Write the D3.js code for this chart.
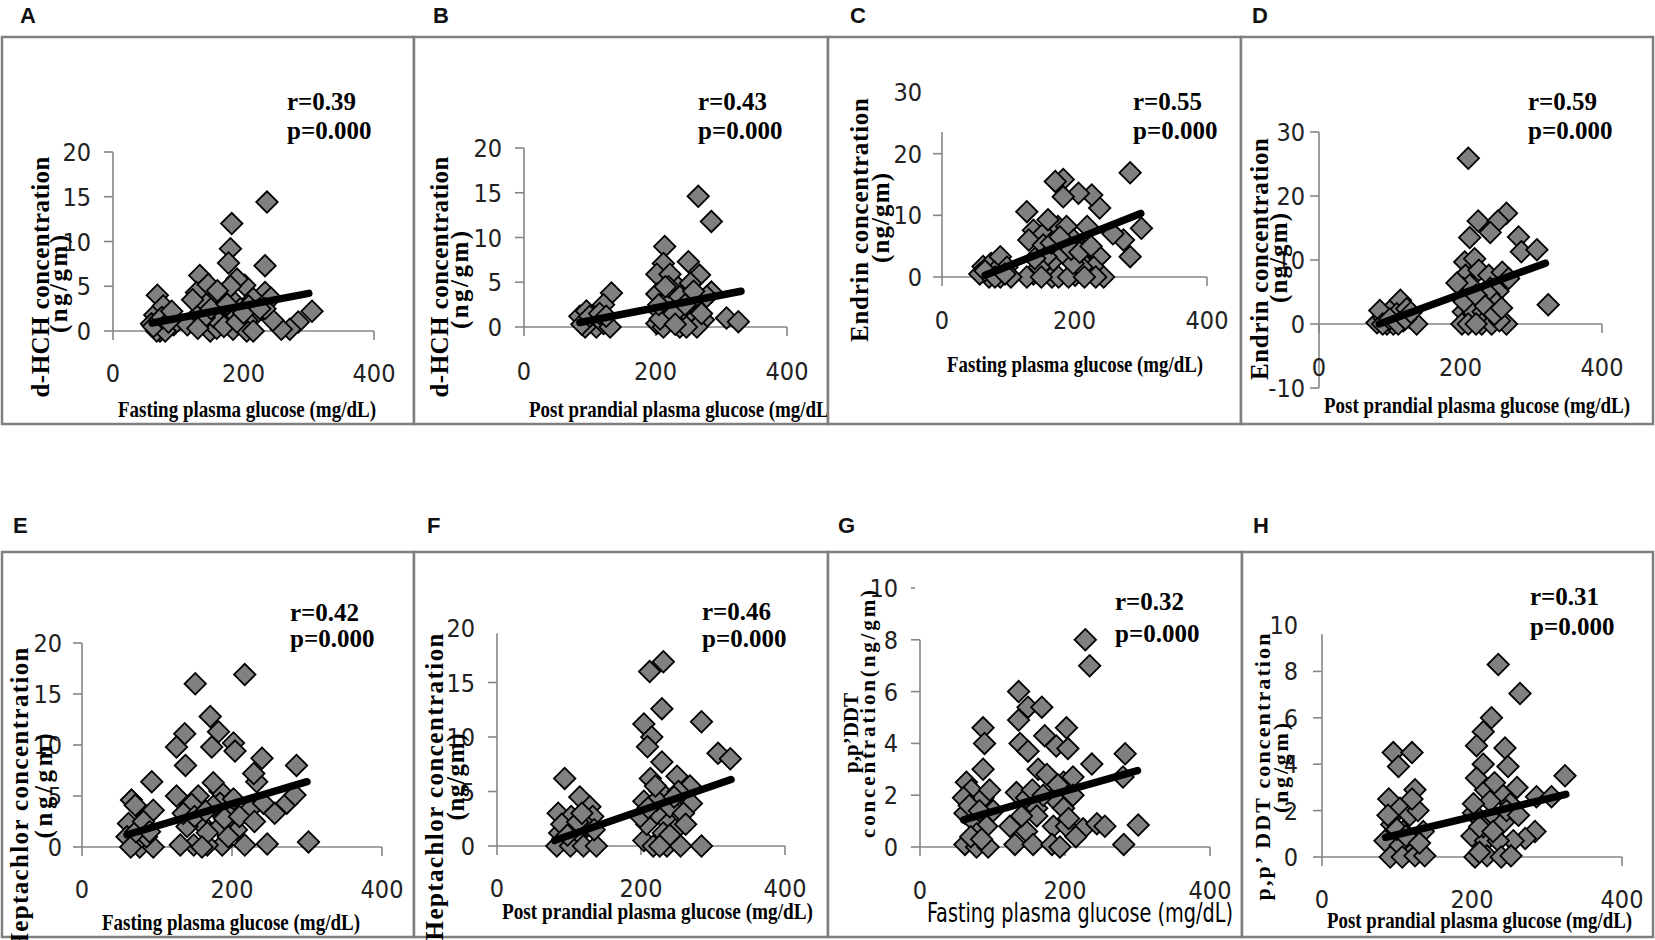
<!DOCTYPE html>
<html><head><meta charset="utf-8">
<script src="https://cdn.jsdelivr.net/npm/d3@7"></script>
<style>
body{margin:0;background:#fff;}
svg{display:block;}
</style></head>
<body>
<svg id="chart" width="1655" height="940"></svg>
<script>
// ---------------- DATA ----------------
const panelIds = ["A","B","C","D","E","F","G","H"];
const xAxisLabels = [
  "Fasting plasma glucose (mg/dL)","Post prandial plasma glucose (mg/dL)",
  "Fasting plasma glucose (mg/dL)","Post prandial plasma glucose (mg/dL)",
  "Fasting plasma glucose (mg/dL)","Post prandial plasma glucose (mg/dL)",
  "Fasting plasma glucose (mg/dL)","Post prandial plasma glucose (mg/dL)"];
const yLabelLine1 = ["d-HCH concentration","d-HCH concentration","Endrin concentration","Endrin concentration",
  "Heptachlor concentration","Heptachlor concentration","p,p’DDT","p,p’ DDT concentration"];
const yLabelLine2 = ["(ng/gm)","(ng/gm)","(ng/gm)","(ng/gm)","(ng/gm)","(ng/gm)","concentration(ng/gm)","(ng/gm)"];
const rTexts = ["r=0.39","r=0.43","r=0.55","r=0.59","r=0.42","r=0.46","r=0.32","r=0.31"];
const pTexts = ["p=0.000","p=0.000","p=0.000","p=0.000","p=0.000","p=0.000","p=0.000","p=0.000"];
const xTicks = [0, 200, 400];
const yTicksA = [0,5,10,15,20];
const yTicksB = [0,5,10,15,20];
const yTicksC = [0,10,20,30];
const yTicksD = [-10,0,10,20,30];
const yTicksE = [0,5,10,15,20];
const yTicksF = [0,5,10,15,20];
const yTicksG = [0,2,4,6,8,10];
const yTicksH = [0,2,4,6,8,10];

const pointsA = [[236,14.4],[182,12],[180,9.2],[177,7.6],[233,7.3],[202,5.1],[133,6.2],[138,4.6],[156,3.8],[190,5.8],
[68,4],[64,1.8],[77,2.8],[87,1.8],[59,0.8],[72,0],[82,0.3],[93,0.7],[305,2.2],[284,1],
[271,0.2],[258,0.2],[245,1.2],[233,4.3],[242,3.7],[219,1.9],[205,1.2],[215,3.6],[185,3.3],[195,2.5],
[164,1.2],[149,0],[124,1.2],[114,0.7],[133,2],[143,3],[164,2.3],[174,1.1],[184,0.2],[205,0],
[215,0],[159,0.3],[128,4.3],[146,5.2],[169,4.2],[180,5],[72,1.3],[67,0],[80,0],[154,1.6],
[185,2],[208,2.8],[233,2.5],[122,3.5],[170,0.5],
[62,0.5],[75,1.5],[85,1],[90,2.2],[140,1.5],[150,2.5],[175,3],[190,1],[200,2],[225,2.5],[160,4.5],[130,0.3]];
const pointsB = [[265,14.6],[285,11.8],[214,9],[212,7.1],[250,7.3],[267,5.8],[285,3.9],[308,1],[326,0.6],[133,3.8],
[121,2.5],[85,1.2],[95,1.8],[103,0.7],[110,0],[121,0.4],[131,0],[93,0],[202,5.9],[202,3.7],
[207,1.7],[202,0.4],[217,0.9],[224,3.7],[232,4.6],[222,5.9],[242,1.7],[237,0],[253,4.9],[255,2.9],
[263,1.2],[273,0.8],[263,0],[212,0],[214,2.8],[247,0],[220,4.5],[237,3.4],[278,3.4],[207,0.9],
[88,0.3],[100,1.2],[115,1.5],[125,1.2],[205,2.5],[215,4.5],[228,1.5],[245,2.5],[258,4],[230,0.3],[270,1.5]];
const pointsC = [[284,16.9],[301,7.9],[284,3.3],[274,6],[258,7],[238,11.2],[226,13.3],[206,13.6],[183,15.8],[171,15.5],
[183,13],[175,8.2],[188,8.2],[128,10.6],[138,7.6],[153,7],[131,6],[153,5.2],[219,8.2],[199,6],
[188,3.3],[224,3.3],[238,3.3],[216,1.9],[229,1.6],[244,0],[232,0],[201,0.3],[166,0],[138,0.5],
[128,0],[168,2.7],[183,3.8],[157,3.3],[176,0],[191,0],[62,1.7],[74,2.2],[88,3.3],[98,1.6],
[71,0],[88,0],[104,0],[57,0.5],[79,0.8],[147,1.6],[211,1.6],[198,2.2],[160,9.3],
[65,1.0],[80,0],[95,0.5],[140,3],[165,5.5],[178,6.5],[195,4.5],[208,4],[225,5],[150,0],[215,0]];
const pointsD = [[211,25.9],[265,17.3],[225,16.1],[253,16.1],[242,14.3],[213,13.5],[282,13.6],[286,11.3],[308,11.6],[324,3],
[206,9.7],[220,10.2],[207,7.6],[226,8.4],[240,7.6],[259,8.1],[268,7.1],[204,5.6],[213,6.1],[242,5.6],
[253,5.1],[215,3.9],[240,4.6],[251,3.2],[204,1.9],[218,1.9],[232,1.9],[202,0],[211,0],[230,0],
[244,0],[265,0],[255,0.5],[82,0.2],[91,1],[101,2.1],[115,3.7],[110,1.6],[119,0.5],[128,1],
[138,0],[96,0],[124,2.4],[105,0],[86,2.1],[195,6.4],
[90,0],[100,0.8],[112,0],[122,0.8],[130,1.8],[205,3.5],[222,4.5],[235,2.8],[248,1.5],[258,2.5],[222,0]];
const pointsE = [[217,16.9],[151,16],[171,12.8],[182,11.3],[137,11.1],[126,9.8],[173,9.8],[202,10.2],[204,9.4],[240,8.7],
[286,8],[138,8],[93,6.4],[233,6.4],[229,7.2],[126,5],[155,5],[184,5.5],[175,6.3],[146,4.2],
[184,4.3],[202,4.7],[224,3.7],[242,4.3],[257,3.3],[273,4.3],[284,5.1],[302,0.5],[247,0.3],[217,0.2],
[187,0.2],[167,0.2],[149,0.2],[131,0.2],[206,1.7],[184,2],[158,2.4],[140,2],[167,1.4],[66,4.6],
[71,4.1],[86,3],[95,3.6],[77,2],[62,2.3],[60,1],[69,0.3],[77,0],[95,0],[86,1],
[175,4],[197,3],[135,3.3],
[65,0],[72,1.5],[82,2.5],[90,1.5],[150,3],[165,3.5],[190,2.8],[210,3],[160,0],[195,1],[230,2.5]];
const pointsF = [[231,16.9],[212,16],[229,12.6],[204,11.2],[284,11.4],[215,10],[209,9.1],[229,7.7],[307,8.5],[324,8],
[94,6.2],[213,6.2],[250,6.4],[268,5.5],[204,4.1],[227,5],[270,3.9],[115,4.5],[129,3.6],[85,3],
[103,2.7],[133,2.7],[125,1.8],[87,1.2],[110,1.2],[83,0],[102,0],[120,0],[138,0],[204,0.5],
[217,0],[236,0],[255,0],[284,0],[208,2],[236,2.3],[248,1.5],[222,3],[240,3.6],[259,3],
[199,2.7],[252,5],[222,4.2],[231,1.2],
[90,2],[98,1],[112,2.2],[118,3],[135,1.5],[210,3.5],[220,5.5],[240,1],[262,2],[246,4.5],[226,0]];
const pointsG = [[228,8],[234,7],[136,6],[149,5.4],[168,5.4],[136,4.9],[87,4.6],[89,4],[138,4],[172,4.3],
[188,3.9],[202,4.6],[204,3.8],[149,3.7],[283,3.6],[237,3.2],[87,3],[163,3],[175,2.8],[198,2.5],
[211,2.7],[280,2.7],[64,2.5],[71,2.2],[87,1.9],[60,1.9],[133,2.1],[147,1.9],[161,1.5],[184,1.9],
[198,1.5],[211,2],[62,1.3],[74,1],[92,0.8],[124,0.8],[147,0.6],[161,1.2],[184,0.8],[202,0.8],
[225,0.7],[244,0.9],[255,0.8],[301,0.85],[281,0.1],[62,0.1],[78,0],[94,0],[131,0.1],[156,0.1],
[182,0.1],[193,0],[101,1.4],[78,0.5],
[68,1.6],[82,1.4],[96,2.2],[70,0.4],[140,1.2],[155,2.2],[170,2],[190,2.4],[205,1.1],[215,0.4],[85,0.3]];
const pointsH = [[235,8.3],[264,7.05],[226,6],[215,5.4],[206,4.8],[244,4.7],[215,4],[248,3.9],[324,3.5],[95,4.5],
[120,4.5],[102,3.9],[124,2.9],[89,2.5],[218,2.9],[240,2.7],[260,3],[286,2.6],[306,2.6],[104,2.1],
[117,1.8],[128,2],[93,1.4],[108,1.1],[135,1.1],[84,0.7],[104,0.5],[124,0.3],[91,0],[107,0],
[124,0.05],[137,0.05],[202,1.9],[224,1.7],[242,1.5],[284,1.1],[271,0.8],[255,0.7],[200,0.9],[218,0.7],
[235,0.7],[204,0],[220,0.05],[239,0],[252,0.05],[206,3.4],[224,2.4],[251,2.3],[202,2.3],[215,1.3],
[88,1.8],[100,1.2],[112,0.9],[120,2.5],[130,0.6],[210,1.3],[228,1.1],[246,2],[262,1.8],[230,3.2],[210,0.2]];

const trendA = [[60,0.9],[300,4.2]];
const trendB = [[85,0.5],[330,4.0]];
const trendC = [[65,0.3],[300,10.3]];
const trendD = [[85,0],[320,9.5]];
const trendE = [[60,1.2],[300,6.4]];
const trendF = [[80,0.5],[325,6.1]];
const trendG = [[60,1.05],[300,2.95]];
const trendH = [[85,0.85],[325,2.7]];

const allPoints = [pointsA,pointsB,pointsC,pointsD,pointsE,pointsF,pointsG,pointsH];
const allTrends = [trendA,trendB,trendC,trendD,trendE,trendF,trendG,trendH];
const allYTicks = [yTicksA,yTicksB,yTicksC,yTicksD,yTicksE,yTicksF,yTicksG,yTicksH];

// ---------------- LAYOUT (pixels / styles) ----------------
const layout = [
 {box:[2,37,414,424], letter:[20,23], x0:113,x400:374, y0:331, yRef:[20,152], yLo:0, yHi:20, tickX:91, xTickBase:382,
  xLab:[118,417,258], yl1:[49,277,241], yl2:[67,284,98], ylFont:25, r:[287,110,139]},
 {box:[414,37,828,424], letter:[433,23], x0:524,x400:787, y0:327, yRef:[20,148], yLo:0, yHi:20, tickX:502, xTickBase:380,
  xLab:[529,417,306], yl1:[448,277,241], yl2:[468,280,98], ylFont:25, r:[698,110,139]},
 {box:[828,37,1241,424], letter:[850,23], x0:942,x400:1207, y0:277, yRef:[30,92], yLo:0, yHi:23.5, tickX:922, xTickBase:329,
  xLab:[947,372,256], yl1:[868,220,244], yl2:[889,218,90], ylFont:25, r:[1133,110,139]},
 {box:[1241,37,1653,424], letter:[1252,23], x0:1319,x400:1602, y0:324, yRef:[30,132], yLo:-10, yHi:30, tickX:1305, xTickBase:376,
  xLab:[1324,413,306], yl1:[1268,259,242], yl2:[1287,258,90], ylFont:25, r:[1528,110,139], xTicksAll:true},
 {box:[2,552,414,937], letter:[13,533], x0:82,x400:382, y0:847, yRef:[20,643], yLo:0, yHi:20, tickX:62, xTickBase:898,
  xLab:[102,930,258], yl1:[28,800,305], yl2:[52,786,105], ylFont:25, r:[290,621,647]},
 {box:[414,552,828,937], letter:[427,533], x0:497,x400:785, y0:846, yRef:[20,628], yLo:0, yHi:19.5, tickX:475, xTickBase:897,
  xLab:[502,919,311], yl1:[443,787,307], yl2:[464,777,87], ylFont:25, r:[702,620,647]},
 {box:[828,552,1242,937], letter:[838,533], x0:920,x400:1210, y0:847, yRef:[10,588], yLo:0, yHi:8, tickX:898, xTickBase:899,
  xLab:[927,922,306], yl1:[858,733,80], yl2:[875,714,248], ylFont:21, r:[1115,610,642], sansXLabel:true, strayTop:true},
 {box:[1242,552,1653,937], letter:[1253,533], x0:1322,x400:1622, y0:857, yRef:[10,625], yLo:0, yHi:9.6, tickX:1298, xTickBase:908,
  xLab:[1327,928,305], yl1:[1270,767,267], yl2:[1288,768,90], ylFont:22, r:[1530,605,635]}
];

const AXIS = "#868686", BORDER = "#7f7f7f", MARK = "#808080";
const TICKFONT = "'Liberation Sans Narrow','Arial Narrow','DejaVu Sans Condensed',sans-serif";
const SERIF = "'Liberation Serif','Times New Roman',serif";

const svg = d3.select("#chart");
svg.append("rect").attr("width",1655).attr("height",940).attr("fill","#fff");

panelIds.forEach((id, i) => {
  const L = layout[i];
  const g = svg.append("g");
  const [bx0,by0,bx1,by1] = L.box;
  g.append("rect").attr("x",bx0).attr("y",by0).attr("width",bx1-bx0).attr("height",by1-by0)
    .attr("fill","#fff").attr("stroke",BORDER).attr("stroke-width",2.5);
  g.append("text").attr("x",L.letter[0]).attr("y",L.letter[1]).text(id)
    .attr("font-family","'Liberation Sans',Arial,sans-serif").attr("font-weight","bold").attr("font-size",22).attr("fill","#111");

  const x = d3.scaleLinear().domain([0,400]).range([L.x0, L.x400]);
  const y = d3.scaleLinear().domain([0,L.yRef[0]]).range([L.y0, L.yRef[1]]);
  const ticks = allYTicks[i];
  const T = 9;

  // y axis line
  const yBottomPx = L.yLo < 0 ? y(L.yLo) : y(0) + T;
  g.append("line").attr("x1",x(0)).attr("x2",x(0)).attr("y1",y(L.yHi)).attr("y2",yBottomPx)
    .attr("stroke",AXIS).attr("stroke-width",1.6);
  g.selectAll(".yt").data(ticks.filter(v => v >= L.yLo && v <= L.yHi)).enter().append("line")
    .attr("x1",x(0)-T).attr("x2",x(0)).attr("y1",d=>y(d)).attr("y2",d=>y(d))
    .attr("stroke",AXIS).attr("stroke-width",1.6);
  if (L.strayTop) {
    const top = d3.max(ticks);
    g.append("line").attr("x1",x(0)-9).attr("x2",x(0)-5).attr("y1",y(top)).attr("y2",y(top))
      .attr("stroke",AXIS).attr("stroke-width",1.6);
  }
  // x axis line
  g.append("line").attr("x1",x(0)).attr("x2",x(400)).attr("y1",y(0)).attr("y2",y(0))
    .attr("stroke",AXIS).attr("stroke-width",1.6);
  g.selectAll(".xt").data(xTicks.filter(v => L.xTicksAll ? true : v > 0)).enter().append("line")
    .attr("x1",d=>x(d)).attr("x2",d=>x(d)).attr("y1",y(0)).attr("y2",y(0)+T)
    .attr("stroke",AXIS).attr("stroke-width",1.6);

  // tick labels
  g.selectAll(".yl").data(ticks).enter().append("text")
    .attr("x",L.tickX).attr("y",d=>y(d)).attr("dy","0.36em").attr("text-anchor","end")
    .attr("font-family",TICKFONT).attr("font-size",25).attr("fill","#222").text(d=>d);
  g.selectAll(".xl").data(xTicks).enter().append("text")
    .attr("x",d=>x(d)).attr("y",L.xTickBase).attr("text-anchor","middle")
    .attr("font-family",TICKFONT).attr("font-size",25).attr("fill","#222").text(d=>d);

  // points
  const sym = d3.symbol().type(d3.symbolSquare).size(230);
  g.selectAll(".pt").data(allPoints[i]).enter().append("path")
    .attr("d", sym)
    .attr("transform", d => `translate(${x(d[0])},${y(d[1])}) rotate(45)`)
    .attr("fill",MARK).attr("stroke","#000").attr("stroke-width",1.8);

  // trend line
  g.append("path").datum(allTrends[i])
    .attr("d", d3.line().x(d=>x(d[0])).y(d=>y(d[1])))
    .attr("stroke","#000").attr("stroke-width",7.5).attr("stroke-linecap","round").attr("fill","none");

  // r, p
  g.append("text").attr("x",L.r[0]).attr("y",L.r[1]).text(rTexts[i])
    .attr("font-family",SERIF).attr("font-weight","bold").attr("font-size",25).attr("fill","#000");
  g.append("text").attr("x",L.r[0]).attr("y",L.r[2]).text(pTexts[i])
    .attr("font-family",SERIF).attr("font-weight","bold").attr("font-size",25).attr("fill","#000");

  // x label
  const xl = g.append("text").attr("x",L.xLab[0]).attr("y",L.xLab[1]).text(xAxisLabels[i])
    .attr("textLength",L.xLab[2]).attr("lengthAdjust","spacingAndGlyphs").attr("fill","#000");
  if (L.sansXLabel) xl.attr("font-family",TICKFONT).attr("font-size",27);
  else xl.attr("font-family",SERIF).attr("font-weight","bold").attr("font-size",24);

  // y label (two lines)
  [[L.yl1, yLabelLine1[i]],[L.yl2, yLabelLine2[i]]].forEach(([p, txt]) => {
    g.append("text").attr("transform",`translate(${p[0]},${p[1]}) rotate(-90)`)
      .attr("text-anchor","middle").text(txt)
      .attr("textLength",p[2]).attr("lengthAdjust","spacing")
      .attr("font-family",SERIF).attr("font-weight","bold").attr("font-size",L.ylFont).attr("fill","#000");
  });
});
</script>
</body></html>
